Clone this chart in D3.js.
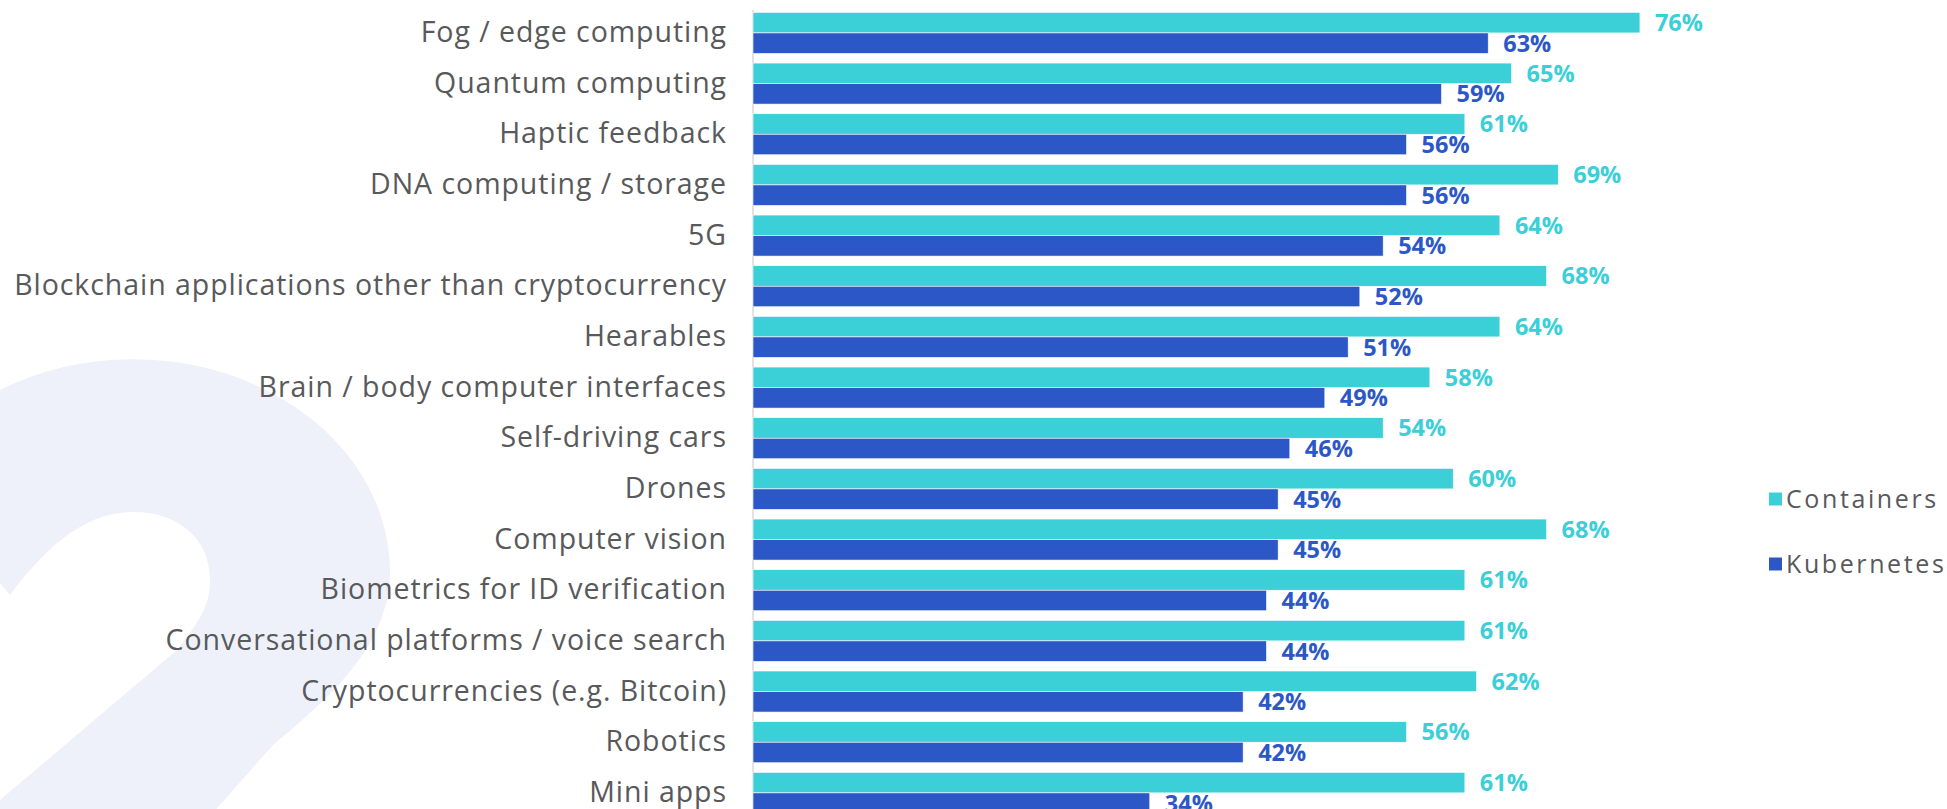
<!DOCTYPE html>
<html>
<head>
<meta charset="utf-8">
<script src="https://cdn.jsdelivr.net/npm/d3@7"></script>
<style>
  html, body { margin: 0; padding: 0; background: #ffffff; overflow: hidden; }
  svg { display: block; }
</style>
</head>
<body>
<script>
const categories = [
  "Fog / edge computing",
  "Quantum computing",
  "Haptic feedback",
  "DNA computing / storage",
  "5G",
  "Blockchain applications other than cryptocurrency",
  "Hearables",
  "Brain / body computer interfaces",
  "Self-driving cars",
  "Drones",
  "Computer vision",
  "Biometrics for ID verification",
  "Conversational platforms / voice search",
  "Cryptocurrencies (e.g. Bitcoin)",
  "Robotics",
  "Mini apps"
];
const seriesNames = ["Containers", "Kubernetes"];
const containers = [76, 65, 61, 69, 64, 68, 64, 58, 54, 60, 68, 61, 61, 62, 56, 61];
const kubernetes = [63, 59, 56, 56, 54, 52, 51, 49, 46, 45, 45, 44, 44, 42, 42, 34];
const seriesValues = [containers, kubernetes];
const seriesColors = ["#3bcfd8", "#2c58c7"];

const W = 1947, H = 809;
const svg = d3.select("body").append("svg").attr("width", W).attr("height", H);

// Background decorative "2"
svg.append("path")
  .attr("d", "M0,390 A257,213 0 0 1 390,570 C390,640 340,690 273,745 L180,850 L-20,850 L-20,800 L0,800 L177,650 C205,615 210,600 210,580 C210,540 180,512 133,512 C80,512 40,555 10,595 L0,583 L-20,570 L-20,380 Z")
  .attr("fill", "#eef1f9");

const x0 = 753;
const x = d3.scaleLinear().domain([0, 100]).range([x0, x0 + 1167]);
const y = d3.scaleBand().domain(categories).range([12.4, 813.4]).paddingInner(0.19).paddingOuter(0);
const ys = d3.scaleBand().domain(seriesNames).range([0, y.bandwidth()]);

// axis line
svg.append("line")
  .attr("x1", x0).attr("x2", x0).attr("y1", 10).attr("y2", H)
  .attr("stroke", "#d9d9d9").attr("stroke-width", 1.5);

// category labels
const yAxis = d3.axisLeft(y).tickSize(0).tickPadding(0);
const gAxis = svg.append("g").attr("transform", `translate(${727},0)`).call(yAxis);
gAxis.select(".domain").remove();
gAxis.selectAll("text")
  .attr("fill", "#58595b")
  .style("font-family", "'Open Sans', sans-serif")
  .style("font-size", "28.5px")
  .style("letter-spacing", "0.95px");

// bars
seriesNames.forEach((s, si) => {
  const vals = seriesValues[si];
  const g = svg.append("g");
  g.selectAll("rect").data(categories).join("rect")
    .attr("x", x(0))
    .attr("y", d => y(d) + ys(s))
    .attr("width", (d, i) => x(vals[i]) - x(0))
    .attr("height", ys.bandwidth())
    .attr("fill", seriesColors[si])
    .attr("stroke", "#ffffff").attr("stroke-width", 0.6);
  g.selectAll("text").data(categories).join("text")
    .attr("x", (d, i) => x(vals[i]) + 15)
    .attr("y", d => y(d) + ys(s) + ys.bandwidth() / 2)
    .attr("dy", "0.36em")
    .attr("fill", seriesColors[si])
    .style("font-family", "'Open Sans', sans-serif")
    .style("font-weight", "700")
    .style("font-size", "23.5px")
    .text((d, i) => vals[i] + "%");
});

// legend
const legendY = [499, 564];
const lg = svg.append("g");
seriesNames.forEach((s, si) => {
  lg.append("rect")
    .attr("x", 1769).attr("y", legendY[si] - 6.5)
    .attr("width", 13).attr("height", 13)
    .attr("fill", seriesColors[si]);
  lg.append("text")
    .attr("x", 1786).attr("y", legendY[si])
    .attr("dy", "0.36em")
    .attr("fill", "#58595b")
    .style("font-family", "'Open Sans', sans-serif")
    .style("font-size", "25px")
    .style("letter-spacing", "2.6px")
    .text(s);
});
</script>
</body>
</html>
